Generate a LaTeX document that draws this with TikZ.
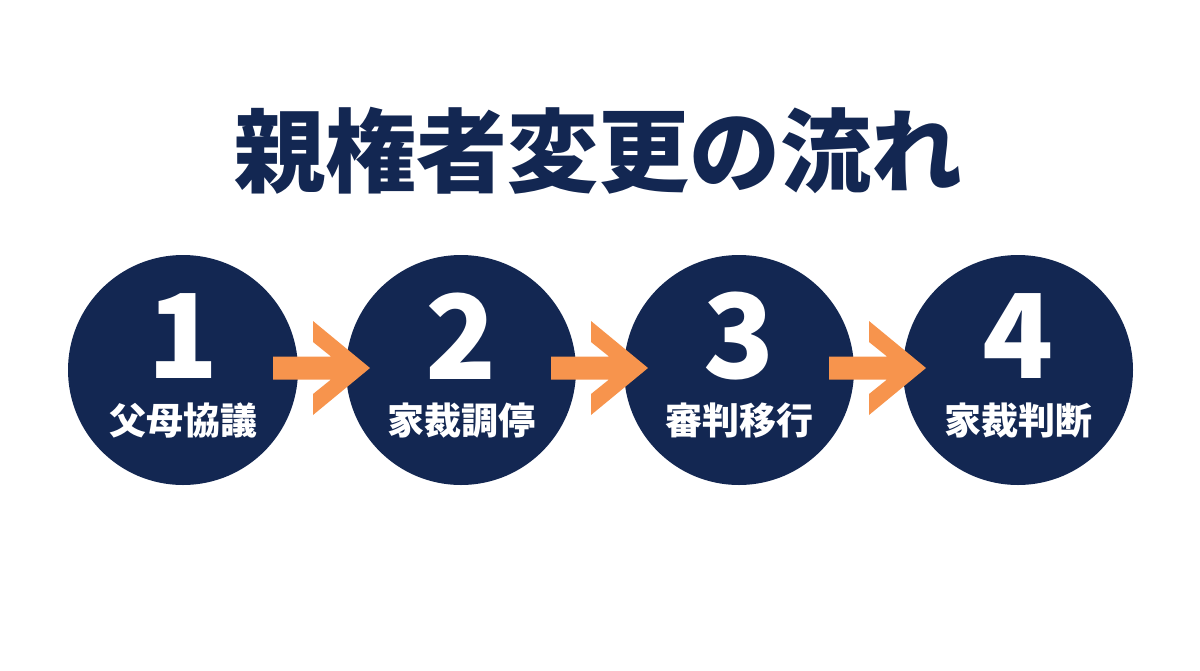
\documentclass[tikz,border=0pt]{standalone}
\usepackage{fontspec}
\newfontfamily\jp{Noto Sans CJK JP}
\definecolor{navy}{RGB}{19,39,82}
\definecolor{arroworange}{RGB}{247,148,77}
\begin{document}
\begin{tikzpicture}[x=1pt,y=-1pt,
  stepcircle/.style={circle,fill=navy,minimum size=230pt,inner sep=0pt},
  numtext/.style={text=white,font=\jp\bfseries\fontsize{117}{117}\selectfont,inner sep=0pt},
  labeltext/.style={text=white,font=\jp\bfseries\fontsize{37}{37}\selectfont,inner sep=0pt},
  titletext/.style={text=navy,font=\jp\bfseries\fontsize{91}{91}\selectfont,inner sep=0pt},
  arrowfill/.style={fill=arroworange}]
\useasboundingbox[fill=white] (0,0) rectangle (1200,670);
\node[titletext] (title) at (598,151) {親権者変更の流れ};
\foreach \i/\x/\lab in {1/183/父母協議,2/461/家裁調停,3/739/審判移行,4/1018/家裁判断}{
  \node[stepcircle] (c\i) at (\x,370) {};
  \node[numtext] (n\i) at (\x,336) {\i};
  \node[labeltext] (l\i) at (\x,421) {\lab};
}
\foreach \i in {1,2,3}{
  \fill[arrowfill,shift={(c\i.center)}]
    (90,-13.5) -- (148,-13.5) -- (130,-28) -- (130,-49) -- (187,-2)
    -- (130,45) -- (130,24) -- (148,9.5) -- (90,9.5) -- cycle;
}
\end{tikzpicture}
\end{document}
